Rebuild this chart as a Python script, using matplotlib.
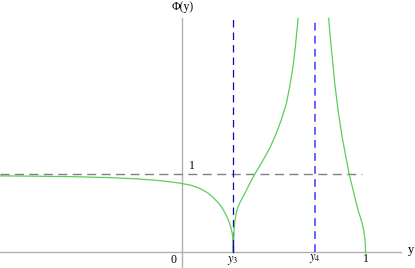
"""
Phi(y) curve with the two singular points y3 and y4 (Mathematica-like look).
Saves out.png at 415x268 px.
"""

import matplotlib.pyplot as plt

# values
Y3 = 0.278
Y4 = 0.726

left_x = [-0.995, -0.8, -0.6, -0.4, -0.25, -0.15, -0.07, 0.0, 0.05, 0.10,
          0.14, 0.17, 0.20, 0.22, 0.24, 0.255, 0.265, 0.272, 0.276, 0.278]
left_y = [0.980, 0.976, 0.970, 0.958, 0.942, 0.925, 0.905, 0.882, 0.858, 0.815,
          0.760, 0.700, 0.625, 0.560, 0.475, 0.390, 0.320, 0.250, 0.170, 0.0]

mid_x = [0.278, 0.2785, 0.280, 0.283, 0.288, 0.295, 0.304, 0.317, 0.331, 0.345,
         0.359, 0.395, 0.431, 0.477, 0.513, 0.540, 0.568, 0.586, 0.604, 0.617,
         0.626, 0.632]
mid_y = [0.0, 0.08, 0.18, 0.30, 0.42, 0.51, 0.585, 0.650, 0.710, 0.772,
         0.841, 1.0, 1.141, 1.333, 1.526, 1.696, 1.91, 2.123, 2.379, 2.636,
         2.85, 3.0]

right_x = [0.799, 0.807, 0.818, 0.832, 0.850, 0.872, 0.896, 0.911, 0.932,
           0.959, 0.972, 0.983, 0.991, 0.996, 0.999, 1.0]
right_y = [3.0, 2.764, 2.508, 2.167, 1.824, 1.482, 1.183, 1.0, 0.799,
           0.542, 0.45, 0.36, 0.27, 0.18, 0.09, 0.0]

XMIN, XMAX = -0.995, 1.270
YMIN, YMAX = -0.201, 3.235

plt.rcParams["font.family"] = ["Liberation Serif", "DejaVu Serif"]
plt.rcParams["mathtext.fontset"] = "stix"

fig = plt.figure(figsize=(4.15, 2.68), dpi=100)
ax = fig.add_axes([0, 0, 1, 1])
ax.set_xlim(XMIN, XMAX)
ax.set_ylim(YMIN, YMAX)
ax.axis("off")

axis_col = "#b0b0b0"
ax.plot([XMIN, 1.196], [0, 0], color=axis_col, lw=1.0)
ax.plot([0, 0], [YMIN, 3.0], color=axis_col, lw=1.0)

# reference lines
y3_col = "#0a0ab4"
ax.plot([XMIN, 0.981], [1, 1], color="#808080", lw=1.0, dashes=(6.5, 3.9))
ax.plot([Y3, Y3], [0, 3.0], color=y3_col, lw=0.9, dashes=(6.0, 4.0))
ax.plot([Y4, Y4], [0, 3.0], color="#6464ff", lw=1.4, dashes=(4.0, 2.7))

green = "#5ccd5c"
for xs, ys in ((left_x, left_y), (mid_x, mid_y), (right_x, right_y)):
    ax.plot(xs, ys, color=green, lw=0.9)

# redraw y3 line on top of the cusp
ax.plot([Y3, Y3], [0, 0.16], color=y3_col, lw=0.9)

fs = 8.5
ax.text(-0.048, -0.10, "0", fontsize=fs, ha="center", va="center")
ax.text(Y3, -0.10, r"$y_3$", fontsize=fs + 0.5, ha="center", va="center")
ax.text(Y4, -0.08, r"$y_4$", fontsize=fs + 0.5, ha="center", va="center")
ax.text(1.0, -0.09, "1", fontsize=fs, ha="center", va="center")
ax.text(0.052, 1.11, "1", fontsize=fs, ha="center", va="center")
ax.text(1.25, 0.03, "y", fontsize=fs + 0.5, ha="center", va="center")
ax.text(0.0, 3.15, "Φ(y)", fontsize=fs, ha="center", va="center")

fig.savefig("out.png", dpi=100)
plt.close(fig)
